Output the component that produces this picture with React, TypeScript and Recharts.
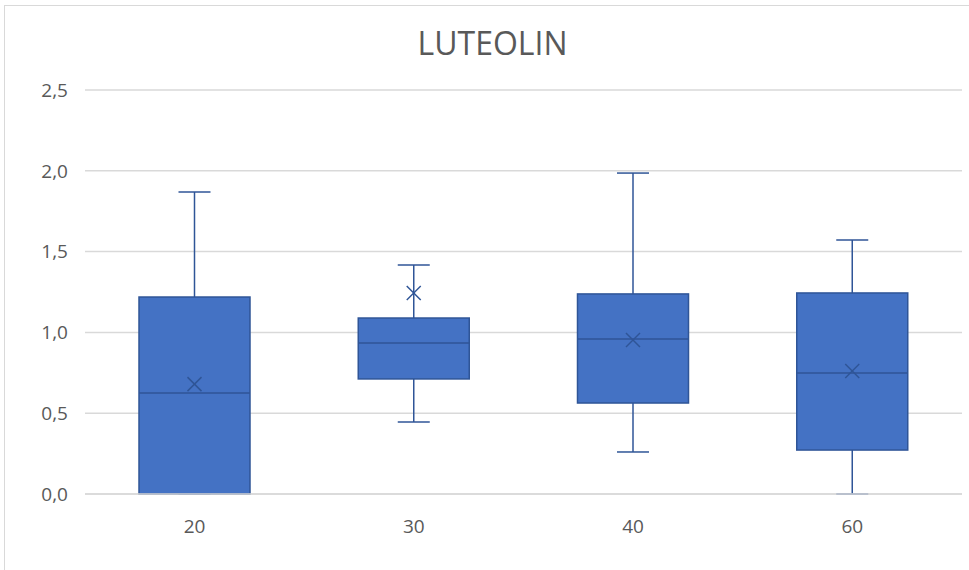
import React from 'react';
import { ComposedChart, Bar, XAxis, YAxis, CartesianGrid } from 'recharts';

const categories = ['20', '30', '40', '60'];
const mins = [0, 0.446, 0.26, 0];
const q1s = [0, 0.712, 0.563, 0.272];
const medians = [0.625, 0.934, 0.959, 0.749];
const q3s = [1.219, 1.089, 1.238, 1.244];
const maxs = [1.869, 1.417, 1.986, 1.572];
const means = [0.68, 1.244, 0.953, 0.761];
const yTicks = [0, 0.5, 1, 1.5, 2, 2.5];

const data = categories.map((name, i) => ({
  name,
  range: [mins[i], maxs[i]],
  min: mins[i],
  q1: q1s[i],
  median: medians[i],
  q3: q3s[i],
  max: maxs[i],
  mean: means[i],
}));

const FILL = '#4472C4';
const LINE = '#2F5597';
const TEXT = '#595959';
const FONT = '"Open Sans", sans-serif';

// draws the whole box plot from the min..max range bar the library hands us
const BoxShape = (props: any) => {
  const { x, y, width, height, payload } = props;
  const { min, q1, median, q3, max, mean } = payload;
  const span = max - min;
  const toY = (v: number) => y + (height * (max - v)) / span;
  const cx = x + width / 2;
  const cap = 16;
  const m = 7;
  const my = toY(mean);
  return (
    <g>
      <line x1={cx} x2={cx} y1={toY(max)} y2={toY(q3)} stroke={LINE} strokeWidth={1.5} />
      <line x1={cx} x2={cx} y1={toY(q1)} y2={toY(min)} stroke={LINE} strokeWidth={1.5} />
      <line x1={cx - cap} x2={cx + cap} y1={toY(max)} y2={toY(max)} stroke={LINE} strokeWidth={1.5} />
      <line x1={cx - cap} x2={cx + cap} y1={toY(min)} y2={toY(min)} stroke={LINE} strokeWidth={1.5} />
      <rect x={x} y={toY(q3)} width={width} height={toY(q1) - toY(q3)} fill={FILL} stroke={LINE} strokeWidth={1.5} />
      <line x1={x} x2={x + width} y1={toY(median)} y2={toY(median)} stroke={LINE} strokeWidth={1.5} />
      <line x1={cx - m} x2={cx + m} y1={my - m} y2={my + m} stroke={LINE} strokeWidth={1.5} />
      <line x1={cx - m} x2={cx + m} y1={my + m} y2={my - m} stroke={LINE} strokeWidth={1.5} />
    </g>
  );
};

const App: React.FC = () => {
  return (
    <div style={{ position: 'absolute', left: 0, top: 0, width: 969, height: 570, background: '#fff', overflow: 'hidden' }}>
      <div style={{ position: 'absolute', left: 4, top: 5, width: 1000, height: 600, border: '1px solid #d9d9d9' }} />
      <div
        style={{
          position: 'absolute',
          left: 0,
          top: 21,
          width: 985,
          textAlign: 'center',
          fontFamily: FONT,
          fontSize: 32,
          color: TEXT,
        }}
      >
        LUTEOLIN
      </div>
      <div style={{ position: 'absolute', left: 0, top: 0 }}>
        <ComposedChart width={969} height={570} data={data} margin={{ top: 90, right: 7, left: 0, bottom: 0 }}>
          <CartesianGrid vertical={false} stroke="#d9d9d9" strokeWidth={1.5} />
          <XAxis
            dataKey="name"
            height={76}
            axisLine={{ stroke: '#d9d9d9', strokeWidth: 1.5 }}
            tickLine={false}
            tickSize={0}
            tickMargin={26}
            tick={{ fill: TEXT, fontSize: 19, fontFamily: FONT }}
          />
          <YAxis
            width={85}
            domain={[0, 2.5]}
            ticks={yTicks}
            axisLine={false}
            tickLine={false}
            tickSize={0}
            tickMargin={17}
            tickFormatter={(v: number) => v.toFixed(1).replace('.', ',')}
            tick={{ fill: TEXT, fontSize: 19, fontFamily: FONT }}
          />
          <Bar dataKey="range" barSize={111} shape={<BoxShape />} isAnimationActive={false} />
        </ComposedChart>
      </div>
    </div>
  );
};

export default App;
